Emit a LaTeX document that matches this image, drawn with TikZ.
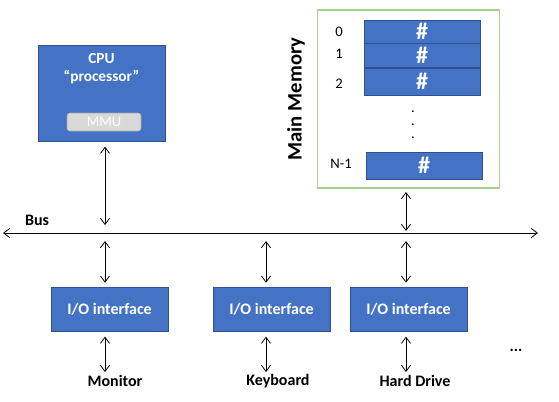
\documentclass[tikz,border=0pt]{standalone}
\usepackage{fontspec}
\setmainfont{Carlito}
\usetikzlibrary{arrows.meta, positioning}

\definecolor{azul}{HTML}{4472C4}
\definecolor{azulborde}{HTML}{2F528F}
\definecolor{verdemarco}{HTML}{A9D18E}

\begin{document}
\begin{tikzpicture}[
            x=0.75pt, y=-0.75pt,
            font=\fontsize{11}{13}\selectfont,
            caja/.style={draw=azulborde, fill=azul, text=white, font=\fontsize{12}{14}\selectfont\bfseries,
                         inner sep=0pt, align=center},
            iobox/.style={caja, minimum width=87.75pt, minimum height=33pt},
            celda/.style={caja, minimum width=87pt, font=\fontsize{18}{20}\selectfont\bfseries},
            indice/.style={font=\fontsize{11}{13}\selectfont},
            flecha/.style={{Straight Barb[length=1.6mm,width=2.4mm]}-{Straight Barb[length=1.6mm,width=2.4mm]}, semithick},
            etiq/.style={font=\fontsize{12}{14}\selectfont\bfseries}
        ]
        \useasboundingbox (0,0) rectangle (559,401);

        % --- CPU ---
        \node[caja, minimum width=95.25pt, minimum height=72pt] (cpu) at (101.5,93) {};
        \node[font=\fontsize{11.5}{13.5}\selectfont\bfseries, text=white, align=center] (cputxt) at (101.5,69)
            {CPU\\“processor”};
        \node[draw=gray!70, fill=gray!30, rounded corners=2pt, text=white,
              minimum width=55.5pt, minimum height=13.5pt, inner sep=0pt,
              font=\fontsize{11}{13}\selectfont] (mmu) at (104,122) {MMU};

        % --- Memoria principal ---
        \node[draw=verdemarco, thick, minimum width=137pt, minimum height=133.5pt]
            (mem) at (408.5,99) {};
        \node[rotate=90, font=\fontsize{15.5}{18}\selectfont\bfseries] (memtxt) at (296,99) {Main Memory};
        \node[celda, minimum height=17.25pt] (m0) at (422,31.5) {\#};
        \node[celda, minimum height=18pt, below=0pt of m0] (m1) {\#};
        \node[celda, minimum height=20.25pt, below=0pt of m1] (m2) {\#};
        \node[celda, minimum height=20.25pt] (mn) at (424,165.5) {\#};
        \node[indice] (i0) at (339,32) {0};
        \node[indice] (i1) at (339,54) {1};
        \node[indice] (i2) at (339,84) {2};
        \node[indice] (in) at (341,164) {N-1};
        \node[align=center, inner sep=0pt, font=\fontsize{11}{9.75}\selectfont] (puntos) at (413,125) {.\\.\\.};

        % --- Bus ---
        \coordinate (busizq) at (3,233);
        \coordinate (busder) at (538,233);
        \draw[flecha] (busizq) -- (busder);
        \node[etiq] (bus) at (37,220) {Bus};

        % --- Interfaces de E/S ---
        \node[iobox] (io1) at (109.5,309) {I/O interface};
        \node[iobox] (io2) at (271.5,309) {I/O interface};
        \node[iobox] (io3) at (408.5,309) {I/O interface};

        \node[etiq] (d1) at (115,381) {Monitor};
        \node[etiq] (d2) at (278,381) {Keyboard};
        \node[etiq] (d3) at (415,381) {Hard Drive};
        \node[etiq] (d4) at (516,350) {...};

        % --- Conexiones ---
        \draw[flecha] ([yshift=-4pt]cpu.south -| 105,0) -- (105,225);
        \draw[flecha] (406,192) -- (406,231);
        \draw[flecha] (105,241) -- ([yshift=3pt]io1.north -| 105,0);
        \draw[flecha] (266,241) -- ([yshift=3pt]io2.north -| 266,0);
        \draw[flecha] (406,241) -- ([yshift=3pt]io3.north -| 406,0);
        \draw[flecha] ([yshift=-4pt]io1.south -| 105,0) -- (105,372);
        \draw[flecha] ([yshift=-4pt]io2.south -| 266,0) -- (266,372);
        \draw[flecha] ([yshift=-4pt]io3.south -| 406,0) -- (406,372);

        \end{tikzpicture}
\end{document}
